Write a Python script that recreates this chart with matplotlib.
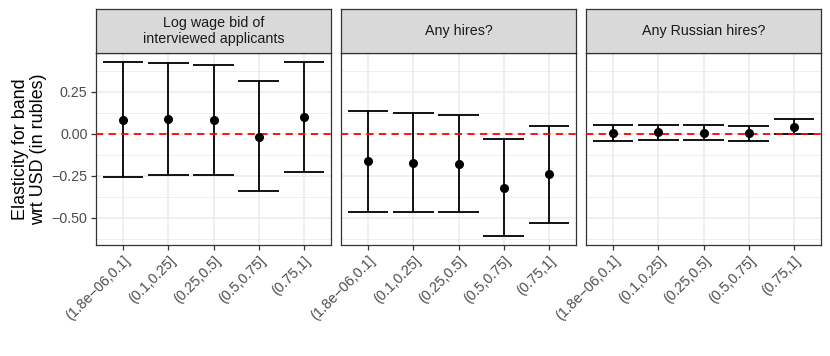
import numpy as np
import matplotlib.pyplot as plt
from matplotlib.ticker import MultipleLocator

plt.rcParams['font.family'] = ['Liberation Sans', 'DejaVu Sans']

bands = ['(1.8e\u221206,0.1]', '(0.1,0.25]', '(0.25,0.5]', '(0.5,0.75]', '(0.75,1]']
panels = ['Log wage bid of\ninterviewed applicants', 'Any hires?', 'Any Russian hires?']

# point estimates and confidence bounds, one list per panel
est_wage = [0.085, 0.089, 0.081, -0.016, 0.101]
lo_wage = [-0.256, -0.242, -0.242, -0.341, -0.226]
hi_wage = [0.427, 0.423, 0.409, 0.315, 0.430]

est_hire = [-0.163, -0.173, -0.177, -0.321, -0.240]
lo_hire = [-0.462, -0.466, -0.466, -0.609, -0.530]
hi_hire = [0.139, 0.123, 0.115, -0.030, 0.048]

est_rus = [0.006, 0.010, 0.008, 0.004, 0.044]
lo_rus = [-0.040, -0.036, -0.036, -0.040, 0.000]
hi_rus = [0.052, 0.054, 0.052, 0.048, 0.089]

series = [(est_wage, lo_wage, hi_wage),
          (est_hire, lo_hire, hi_hire),
          (est_rus, lo_rus, hi_rus)]

W, H = 830, 356
fig = plt.figure(figsize=(W / 100, H / 100), dpi=100)

lefts = [96, 341, 586]
pw = 235
top, bottom = 53, 245
strip_top = 9

x = np.arange(1, len(bands) + 1)
for i, (est, lo, hi) in enumerate(series):
    ax = fig.add_axes([lefts[i] / W, 1 - bottom / H, pw / W, (bottom - top) / H])
    ax.set_facecolor('white')
    ax.set_xlim(0.4, len(bands) + 0.6)
    ax.set_ylim(-0.661, 0.482)
    ax.yaxis.set_major_locator(MultipleLocator(0.25))
    ax.yaxis.set_minor_locator(MultipleLocator(0.125))
    ax.set_xticks(x)
    ax.grid(True, which='major', color='#EBEBEB', lw=1.1, zorder=0)
    ax.grid(True, which='minor', axis='y', color='#EBEBEB', lw=0.55, zorder=0)
    ax.set_axisbelow(True)

    est = np.array(est); lo = np.array(lo); hi = np.array(hi)
    ax.vlines(x, lo, hi, color='black', lw=1.3, zorder=2)
    ax.hlines(lo, x - 0.45, x + 0.45, color='black', lw=1.3, zorder=2)
    ax.hlines(hi, x - 0.45, x + 0.45, color='black', lw=1.3, zorder=2)
    ax.axhline(0, color='red', lw=1.3, ls=(0, (4, 3)), zorder=3)
    ax.plot(x, est, 'o', color='black', ms=5.5, zorder=4)

    for s in ax.spines.values():
        s.set_color('#333333')
        s.set_linewidth(0.9)
    ax.tick_params(axis='both', which='major', color='#333333', length=3.6,
                   labelsize=10.3, labelcolor='#4D4D4D', width=0.9, pad=2.5)
    ax.tick_params(axis='y', which='minor', length=0)
    ax.set_xticklabels(bands, rotation=45, ha='right', va='top', rotation_mode='anchor')
    if i == 0:
        ax.set_yticklabels([f'{v:.2f}'.replace('-', '\u2212') for v in ax.get_yticks()])
        ax.set_ylabel('Elasticity for band\nwrt USD (in rubles)', fontsize=12.9,
                      labelpad=3, linespacing=1.12)
    else:
        ax.tick_params(axis='y', which='both', left=False, labelleft=False)

    sax = fig.add_axes([lefts[i] / W, 1 - top / H, pw / W, (top - strip_top) / H])
    sax.set_facecolor('#D9D9D9')
    sax.set_xticks([]); sax.set_yticks([])
    for s in sax.spines.values():
        s.set_color('#333333')
        s.set_linewidth(0.9)
    sax.text(0.5, 0.5, panels[i], ha='center', va='center', fontsize=10.3,
             color='#1A1A1A', transform=sax.transAxes, linespacing=1.15)

fig.savefig('out.png', dpi=100)
